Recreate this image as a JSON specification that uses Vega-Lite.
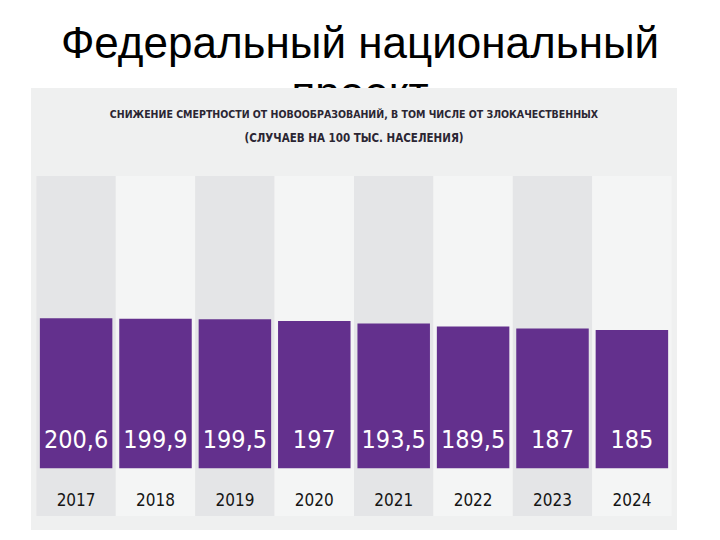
{
  "$schema": "https://vega.github.io/schema/vega-lite/v6.json",
  "autosize": {"type": "none"},
  "width": 646,
  "height": 442,
  "padding": {"left": 31, "right": 43, "top": 88, "bottom": 10},
  "background": "white",
  "config": {
    "view": {"stroke": null, "fill": null},
    "locale": {"number": {"decimal": ",", "thousands": " ", "grouping": [3], "currency": ["", " ₽"]}}
  },
  "datasets": {
    "deaths": [
      {"year": "2017", "value": 200.6},
      {"year": "2018", "value": 199.9},
      {"year": "2019", "value": 199.5},
      {"year": "2020", "value": 197},
      {"year": "2021", "value": 193.5},
      {"year": "2022", "value": 189.5},
      {"year": "2023", "value": 187},
      {"year": "2024", "value": 185}
    ]
  },
  "layer": [
    {
      "data": {"values": [{"t": "Федеральный национальный\nпроект"}]},
      "mark": {"type": "text", "font": "Liberation Sans", "fontSize": 44, "color": "#000000", "align": "center", "baseline": "alphabetic", "lineBreak": "\n", "lineHeight": 50, "dx": 6},
      "encoding": {
        "text": {"field": "t"},
        "y": {"datum": 548.7, "type": "quantitative", "scale": {"domain": [-82.5, 508.6], "nice": false, "zero": false}, "axis": null}
      }
    },
    {
      "data": {"values": [{}]},
      "mark": {"type": "rect", "color": "#eff0f0"},
      "encoding": {}
    },
    {
      "data": {"name": "deaths"},
      "mark": {"type": "rect"},
      "encoding": {
        "x": {"field": "year", "type": "ordinal", "scale": {"paddingInner": 0, "paddingOuter": 0.068, "align": 0.5}, "axis": null},
        "y": {"datum": 390.9, "type": "quantitative", "scale": {"domain": [-82.5, 508.6], "nice": false, "zero": false}, "axis": null},
        "y2": {"datum": -63.8},
        "color": {"field": "year", "type": "nominal", "legend": null, "scale": {"range": ["#e4e5e7", "#f4f5f5", "#e4e5e7", "#f4f5f5", "#e4e5e7", "#f4f5f5", "#e4e5e7", "#f4f5f5"]}}
      }
    },
    {
      "data": {"name": "deaths"},
      "mark": {"type": "bar", "color": "#63308d", "width": {"band": 0.913}},
      "encoding": {
        "x": {"field": "year", "type": "ordinal", "axis": null},
        "y": {"field": "value", "type": "quantitative", "scale": {"domain": [-82.5, 508.6], "nice": false, "zero": false}, "axis": null},
        "y2": {"datum": 0}
      }
    },
    {
      "data": {"name": "deaths"},
      "mark": {"type": "text", "font": "DejaVu Sans Condensed, Roboto, sans-serif", "fontSize": 25, "color": "white", "align": "center", "baseline": "alphabetic"},
      "encoding": {
        "x": {"field": "year", "type": "ordinal", "axis": null},
        "y": {"datum": 27.2, "type": "quantitative", "scale": {"domain": [-82.5, 508.6], "nice": false, "zero": false}, "axis": null},
        "text": {"field": "value", "type": "quantitative", "format": "~g"}
      }
    },
    {
      "data": {"name": "deaths"},
      "mark": {"type": "text", "font": "DejaVu Sans Condensed, Roboto, sans-serif", "fontSize": 17, "color": "#151515", "align": "center", "baseline": "alphabetic"},
      "encoding": {
        "x": {"field": "year", "type": "ordinal", "axis": null},
        "y": {"datum": -50.4, "type": "quantitative", "scale": {"domain": [-82.5, 508.6], "nice": false, "zero": false}, "axis": null},
        "text": {"field": "year"}
      }
    },
    {
      "data": {"values": [{"t": "СНИЖЕНИЕ СМЕРТНОСТИ ОТ НОВООБРАЗОВАНИЙ, В ТОМ ЧИСЛЕ ОТ ЗЛОКАЧЕСТВЕННЫХ"}]},
      "mark": {"type": "text", "font": "DejaVu Sans Condensed, Roboto, sans-serif", "fontSize": 10.5, "fontWeight": "bold", "color": "#2b2633", "align": "center", "baseline": "alphabetic"},
      "encoding": {
        "text": {"field": "t"},
        "y": {"datum": 468.5, "type": "quantitative", "scale": {"domain": [-82.5, 508.6], "nice": false, "zero": false}, "axis": null}
      }
    },
    {
      "data": {"values": [{"t": "(СЛУЧАЕВ НА 100 ТЫС. НАСЕЛЕНИЯ)"}]},
      "mark": {"type": "text", "font": "DejaVu Sans Condensed, Roboto, sans-serif", "fontSize": 11.5, "fontWeight": "bold", "color": "#2b2633", "align": "center", "baseline": "alphabetic"},
      "encoding": {
        "text": {"field": "t"},
        "y": {"datum": 436.4, "type": "quantitative", "scale": {"domain": [-82.5, 508.6], "nice": false, "zero": false}, "axis": null}
      }
    }
  ]
}
